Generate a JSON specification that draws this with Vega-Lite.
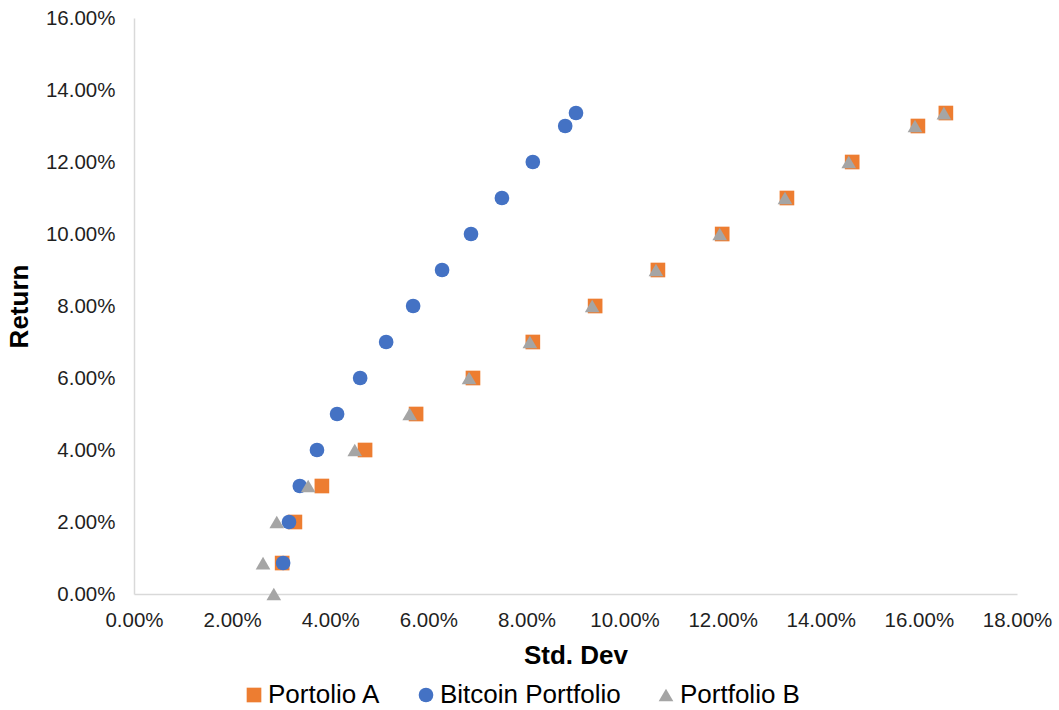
{
  "$schema": "https://vega.github.io/schema/vega-lite/v6.json",
  "width": 883,
  "height": 576,
  "autosize": "none",
  "padding": {"left": 134, "top": 18, "right": 42, "bottom": 116},
  "background": "white",
  "config": {
    "font": "Liberation Sans",
    "view": {"stroke": null},
    "axis": {
      "grid": false,
      "ticks": false,
      "domainColor": "#D9D9D9",
      "domainWidth": 1.5,
      "labelFont": "Liberation Sans",
      "labelFontSize": 20.5,
      "labelColor": "#1f1f1f",
      "labelFlush": false,
      "labelOverlap": false,
      "titleFont": "Liberation Sans",
      "titleFontSize": 26,
      "titleFontWeight": "bold",
      "titleColor": "#000000"
    },
    "legend": {
      "labelFont": "Liberation Sans",
      "labelFontSize": 26,
      "labelColor": "#000000",
      "labelLimit": 0
    }
  },
  "data": {
    "values": [
      {"series": "Portolio A", "sd": 0.0302, "ret": 0.0086},
      {"series": "Portolio A", "sd": 0.0328, "ret": 0.02},
      {"series": "Portolio A", "sd": 0.0383, "ret": 0.03},
      {"series": "Portolio A", "sd": 0.0471, "ret": 0.04},
      {"series": "Portolio A", "sd": 0.0575, "ret": 0.05},
      {"series": "Portolio A", "sd": 0.0691, "ret": 0.06},
      {"series": "Portolio A", "sd": 0.0813, "ret": 0.07},
      {"series": "Portolio A", "sd": 0.0940, "ret": 0.08},
      {"series": "Portolio A", "sd": 0.1068, "ret": 0.09},
      {"series": "Portolio A", "sd": 0.1199, "ret": 0.10},
      {"series": "Portolio A", "sd": 0.1331, "ret": 0.11},
      {"series": "Portolio A", "sd": 0.1464, "ret": 0.12},
      {"series": "Portolio A", "sd": 0.1598, "ret": 0.13},
      {"series": "Portolio A", "sd": 0.1655, "ret": 0.1336},
      {"series": "Bitcoin Portfolio", "sd": 0.0304, "ret": 0.0086},
      {"series": "Bitcoin Portfolio", "sd": 0.0316, "ret": 0.02},
      {"series": "Bitcoin Portfolio", "sd": 0.0338, "ret": 0.03},
      {"series": "Bitcoin Portfolio", "sd": 0.0373, "ret": 0.04},
      {"series": "Bitcoin Portfolio", "sd": 0.0414, "ret": 0.05},
      {"series": "Bitcoin Portfolio", "sd": 0.0461, "ret": 0.06},
      {"series": "Bitcoin Portfolio", "sd": 0.0514, "ret": 0.07},
      {"series": "Bitcoin Portfolio", "sd": 0.0569, "ret": 0.08},
      {"series": "Bitcoin Portfolio", "sd": 0.0628, "ret": 0.09},
      {"series": "Bitcoin Portfolio", "sd": 0.0687, "ret": 0.10},
      {"series": "Bitcoin Portfolio", "sd": 0.0750, "ret": 0.11},
      {"series": "Bitcoin Portfolio", "sd": 0.0813, "ret": 0.12},
      {"series": "Bitcoin Portfolio", "sd": 0.0879, "ret": 0.13},
      {"series": "Bitcoin Portfolio", "sd": 0.0901, "ret": 0.1336},
      {"series": "Portfolio B", "sd": 0.0285, "ret": 0.0},
      {"series": "Portfolio B", "sd": 0.0263, "ret": 0.0086},
      {"series": "Portfolio B", "sd": 0.0291, "ret": 0.02},
      {"series": "Portfolio B", "sd": 0.0355, "ret": 0.03},
      {"series": "Portfolio B", "sd": 0.0450, "ret": 0.04},
      {"series": "Portfolio B", "sd": 0.0562, "ret": 0.05},
      {"series": "Portfolio B", "sd": 0.0683, "ret": 0.06},
      {"series": "Portfolio B", "sd": 0.0807, "ret": 0.07},
      {"series": "Portfolio B", "sd": 0.0934, "ret": 0.08},
      {"series": "Portfolio B", "sd": 0.1064, "ret": 0.09},
      {"series": "Portfolio B", "sd": 0.1194, "ret": 0.10},
      {"series": "Portfolio B", "sd": 0.1327, "ret": 0.11},
      {"series": "Portfolio B", "sd": 0.1457, "ret": 0.12},
      {"series": "Portfolio B", "sd": 0.1592, "ret": 0.13},
      {"series": "Portfolio B", "sd": 0.1651, "ret": 0.1336}
    ]
  },
  "mark": {"type": "point", "filled": true, "opacity": 1, "size": 215},
  "encoding": {
    "x": {
      "field": "sd",
      "type": "quantitative",
      "title": "Std. Dev",
      "scale": {"domain": [0, 0.18], "nice": false, "zero": true},
      "axis": {"format": ".2%", "values": [0, 0.02, 0.04, 0.06, 0.08, 0.10, 0.12, 0.14, 0.16, 0.18], "labelPadding": 16, "titlePadding": 12}
    },
    "y": {
      "field": "ret",
      "type": "quantitative",
      "title": "Return",
      "scale": {"domain": [0, 0.16], "nice": false},
      "axis": {"format": ".2%", "values": [0, 0.02, 0.04, 0.06, 0.08, 0.10, 0.12, 0.14, 0.16], "labelPadding": 19, "titlePadding": 13}
    },
    "color": {
      "field": "series",
      "type": "nominal",
      "scale": {"domain": ["Portolio A", "Bitcoin Portfolio", "Portfolio B"], "range": ["#ED7D31", "#4472C4", "#A5A5A5"]},
      "legend": {"title": null, "orient": "none", "direction": "horizontal", "legendX": 107, "legendY": 664, "columnPadding": 32, "symbolSize": 215, "labelOffset": 1, "symbolStrokeWidth": 0}
    },
    "shape": {
      "field": "series",
      "type": "nominal",
      "scale": {"domain": ["Portolio A", "Bitcoin Portfolio", "Portfolio B"], "range": ["square", "circle", "triangle-up"]}
    }
  }
}
